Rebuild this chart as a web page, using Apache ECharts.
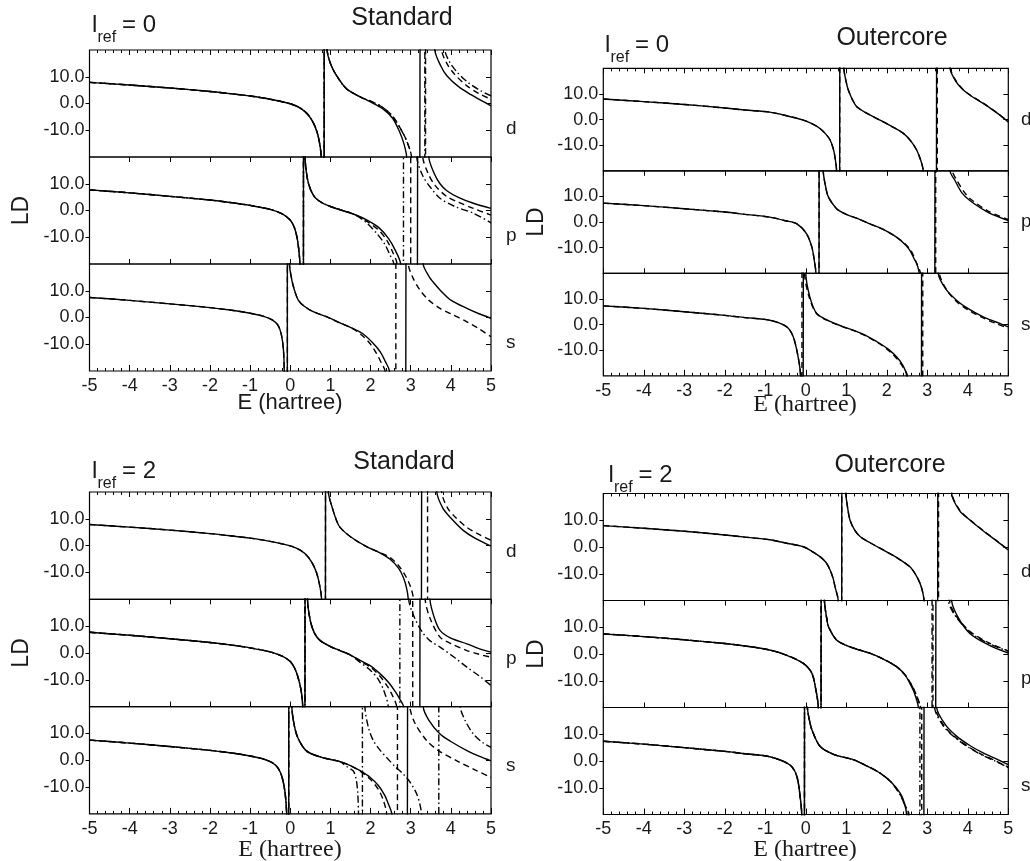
<!DOCTYPE html>
<html>
<head>
<meta charset="utf-8">
<script src="https://cdn.jsdelivr.net/npm/echarts@6/dist/echarts.min.js"></script>
<style>
  html, body { margin: 0; padding: 0; background: #fff; }
  #chart { width: 1030px; height: 861px; }
</style>
</head>
<body>
<div id="chart"></div>
<script>
// ---------- axes and labels ----------
const E_MIN = -5, E_MAX = 5, E_STEP = 1;
const LD_MIN = -20, LD_MAX = 20, LD_STEP = 10;
const LD_TICKS = [-10, 0, 10];
const CHANNELS = ['d', 'p', 's'];
const PANEL_TITLES = ['Standard', 'Outercore', 'Standard', 'Outercore'];
const REF_L = ['0', '0', '2', '2'];
const X_TITLE = 'E (hartree)';
const Y_TITLE = 'LD';

// ---------- logarithmic derivatives, [E, LD]; +-99 marks a pole crossing ----------
// Standard, l_ref = 0
const std0_d_left = [[-5,7.9],[-4,6.9],[-3,5.8],[-2,4.5],[-1.5,3.7],[-1,2.8],[-0.5,1.6],[0,-0.1],[0.25,-1.7],[0.45,-4.3],[0.6,-8],[0.7,-12.5],[0.77,-20],[0.84,-99]];
const std0_d_mid = [[0.85,99],[0.92,20],[1.0,15],[1.15,10.5],[1.4,5.5],[1.7,2.8],[1.85,1.7]];
const std0_d_solid = [[2.0,0.6],[2.3,-1.9],[2.55,-5.5],[2.72,-10.5],[2.83,-15],[2.9,-20],[3.22,-99],[3.24,99],[3.6,20],[3.75,14],[3.9,10.4],[4.2,6.2],[4.5,3.3],[4.75,1.2],[5,-0.9]];
const std0_d_dash = [[2.0,0.9],[2.3,-1.4],[2.55,-4.8],[2.75,-9.5],[2.9,-14],[3.02,-20],[3.36,-99],[3.38,99],[3.77,20],[3.9,15],[4.1,10.8],[4.4,6.6],[4.7,3.7],[5,1.6]];
const std0_d_dot = [[2.0,0.9],[2.3,-1.4],[2.55,-4.8],[2.75,-9.5],[2.9,-14],[3.02,-20],[3.345,-99],[3.36,99],[3.85,20],[3.97,15.5],[4.17,11.5],[4.45,7.6],[4.75,4.7],[5,2.9]];

const std0_p_left = [[-5,7.7],[-4,6.6],[-3,5.3],[-2,3.9],[-1.5,3.0],[-1,1.9],[-0.5,0.4],[-0.2,-1.3],[0,-3.6],[0.1,-6.3],[0.18,-11],[0.24,-20],[0.32,-99]];
const std0_p_mid = [[0.335,99],[0.37,20],[0.42,12.5],[0.5,8],[0.62,4.8],[0.8,2.8],[1.0,1.5],[1.3,0],[1.6,-1.5]];
const std0_p_solid = [[1.9,-3.5],[2.2,-6.3],[2.45,-10.5],[2.62,-15],[2.75,-20],[3.16,-99],[3.18,99],[3.45,20],[3.58,14],[3.73,10],[3.9,7.4],[4.2,4.8],[4.56,2.7],[5,0.8]];
const std0_p_dash = [[1.9,-4],[2.2,-7.3],[2.4,-11],[2.55,-15.5],[2.66,-20],[2.99,-99],[3.01,99],[3.3,20],[3.43,14],[3.6,9.5],[3.9,5.2],[4.2,3.0],[4.56,0.8],[5,-1.7]];
const std0_p_dot = [[1.9,-4.6],[2.15,-8.5],[2.35,-12.5],[2.48,-16.5],[2.58,-20],[2.81,-99],[2.83,99],[3.15,20],[3.3,13],[3.5,8.5],[3.73,4.6],[4.1,1.5],[4.56,-1.0],[5,-4.6]];

const std0_s_left = [[-5,7.5],[-4,6.4],[-3,5.1],[-2,3.7],[-1.5,2.8],[-1,1.6],[-0.7,0.6],[-0.45,-0.9],[-0.3,-3],[-0.22,-6.5],[-0.17,-12],[-0.15,-20],[-0.08,-99]];
const std0_s_mid = [[-0.065,99],[-0.02,20],[0.04,14],[0.1,10.5],[0.2,6.5],[0.35,4.2],[0.57,2.2],[0.9,0.3],[1.24,-2.0],[1.5,-3.7]];
const std0_s_solid = [[1.8,-6],[2.07,-9.7],[2.25,-13],[2.37,-16.5],[2.47,-20],[2.87,-99],[2.89,99],[3.31,20],[3.45,15.5],[3.6,12.5],[3.73,10.3],[4.0,6.5],[4.4,3.4],[4.7,1.4],[5,-0.3]];
const std0_s_dash = [[1.8,-6.8],[2.0,-10],[2.15,-13.5],[2.27,-17],[2.36,-20],[2.62,-99],[2.64,99],[2.94,20],[3.05,15],[3.23,10.3],[3.45,6.5],[3.73,3.4],[4.0,1.4],[4.4,-1.6],[4.7,-4.2],[5,-7.2]];

// Standard, l_ref = 2
const std2_d_left = [[-5,7.9],[-4,6.9],[-3,5.8],[-2,4.5],[-1.5,3.7],[-1,2.8],[-0.5,1.6],[0,-0.1],[0.25,-1.7],[0.45,-4.3],[0.6,-8],[0.7,-12.5],[0.78,-20],[0.87,-99]];
const std2_d_mid = [[0.885,99],[0.95,20],[1.05,14],[1.15,9.5],[1.24,6.8],[1.5,3.3],[1.9,-0.4],[2.2,-2.4]];
const std2_d_solid = [[2.48,-5],[2.7,-8.5],[2.82,-12],[2.9,-16],[2.94,-20],[3.26,-99],[3.28,99],[3.65,20],[3.8,14],[4.0,10.3],[4.3,5.8],[4.6,2.8],[5,-0.2]];
const std2_d_dash = [[2.48,-4.4],[2.7,-7.5],[2.88,-11.5],[3.0,-15.5],[3.07,-20],[3.41,-99],[3.43,99],[3.77,20],[3.92,14],[4.1,10.8],[4.4,6.8],[4.7,4.2],[5,2.0]];

const std2_p_left = [[-5,7.7],[-4,6.6],[-3,5.3],[-2,3.9],[-1.5,3.0],[-1,1.9],[-0.5,0.4],[-0.2,-1.2],[0,-3.2],[0.12,-6],[0.22,-10.5],[0.28,-15],[0.31,-20],[0.36,-99]];
const std2_p_mid = [[0.375,99],[0.43,20],[0.5,12],[0.6,7.5],[0.74,4.7],[1.0,2.4],[1.24,0.9],[1.5,-0.8]];
const std2_p_solid = [[1.74,-2.8],[2.0,-4.8],[2.24,-7.8],[2.45,-11],[2.62,-14.5],[2.74,-17.5],[2.82,-20],[3.22,-99],[3.24,99],[3.48,20],[3.58,13.5],[3.73,8.4],[4.0,5.5],[4.4,3.4],[4.7,1.6],[5,0.3]];
const std2_p_dash = [[1.74,-3.1],[2.0,-5.3],[2.24,-8.8],[2.42,-12.5],[2.55,-16],[2.65,-20],[3.04,-99],[3.06,99],[3.36,20],[3.48,13],[3.73,5.9],[4.0,3.5],[4.4,0.9],[4.7,-0.5],[5,-1.6]];
const std2_p_dot = [[1.74,-3.5],[2.0,-6.5],[2.2,-10],[2.33,-14],[2.44,-20],[2.72,-99],[2.74,99],[2.95,20],[3.1,13],[3.3,7.5],[3.5,4.3],[3.73,2.2],[4.1,-1.8],[4.4,-5.3],[4.7,-8.5],[5,-12.1]];

const std2_s_left = [[-5,7.5],[-4,6.4],[-3,5.1],[-2,3.7],[-1.5,2.8],[-1,1.6],[-0.7,0.6],[-0.45,-0.9],[-0.3,-3],[-0.2,-6.5],[-0.13,-12],[-0.09,-20],[-0.045,-99]];
const std2_s_mid = [[-0.03,99],[0.04,20],[0.1,13],[0.2,8],[0.41,3.4],[0.8,1.0],[1.24,-0.5]];
const std2_s_solid = [[1.5,-2],[1.74,-3.9],[2.0,-6.5],[2.2,-9.5],[2.35,-13],[2.45,-16.5],[2.53,-20],[2.91,-99],[2.93,99],[3.31,20],[3.45,15],[3.73,9.8],[4.0,7],[4.4,3.6],[4.7,1.5],[5,-0.2]];
const std2_s_dash = [[1.5,-2.1],[1.74,-4.1],[2.0,-7.2],[2.2,-11],[2.32,-15],[2.4,-20],[2.66,-99],[2.68,99],[2.98,20],[3.1,14],[3.4,7.3],[3.7,3.5],[4.15,-0.2],[4.6,-3.6],[5,-6.4]];
const std2_s_dot = [[1.4,-2.3],[1.57,-4],[1.64,-7],[1.68,-12],[1.7,-20],[1.79,-99],[1.805,99],[1.86,20],[1.95,12],[2.07,7.3],[2.25,3.5],[2.4,1.0],[2.6,-2.2],[2.82,-5.2],[3.0,-8.5],[3.15,-12.6],[3.23,-16.5],[3.27,-20],[3.69,-99],[3.71,99],[4.23,20],[4.35,15],[4.56,9.8],[4.8,6.5],[5,4.8]];

// Outercore, l_ref = 0
const oc0_d_left = [[-5,8.0],[-4,7.0],[-3,5.9],[-2,4.5],[-1.5,3.7],[-0.89,2.9],[-0.5,1.6],[-0.06,-0.2],[0.15,-1.6],[0.35,-3.5],[0.5,-5.8],[0.6,-8],[0.68,-11.5],[0.72,-14.6],[0.76,-20],[0.83,-99]];
const oc0_d_mid = [[0.845,99],[0.94,20],[1.0,14.5],[1.05,11.5],[1.15,7.8],[1.26,5],[1.5,2.5],[1.83,-0.2],[2.1,-2.5],[2.41,-5.4],[2.6,-8.5],[2.74,-12],[2.84,-16],[2.9,-20]];
const oc0_d_solid = [[3.22,-99],[3.235,99],[3.56,20],[3.7,15],[3.89,11.5],[4.1,9.0],[4.38,6.3],[4.7,2.8],[5,-0.9]];
const oc0_d_dash = [[3.24,-99],[3.255,99],[3.57,20],[3.71,15.1],[3.89,11.6],[4.1,9.1],[4.38,6.4],[4.7,2.9],[5,-0.8]];

const oc0_p_left = [[-5,7.4],[-4,6.4],[-3,5.2],[-2,3.9],[-1.5,3.0],[-0.89,1.9],[-0.5,0.5],[-0.22,-0.7],[0.02,-4.6],[0.15,-9.8],[0.21,-15],[0.25,-20],[0.32,-99]];
const oc0_p_mid = [[0.335,99],[0.43,20],[0.5,13],[0.56,9.7],[0.76,5.2],[1.0,3],[1.3,1.2],[1.58,-0.7],[1.9,-2.8],[2.24,-5.9]];
const oc0_p_solid = [[2.45,-8.8],[2.57,-11.1],[2.68,-14.5],[2.74,-16.3],[2.8,-20],[3.18,-99],[3.195,99],[3.56,20],[3.68,16.3],[3.85,11.5],[4.05,8.4],[4.5,3.8],[5,0.6]];
const oc0_p_dash = [[2.45,-8.5],[2.6,-11.2],[2.72,-15.5],[2.83,-20],[3.2,-99],[3.215,99],[3.62,20],[3.74,16],[3.9,12],[4.05,9.2],[4.5,4.3],[5,1.0]];

const oc0_s_left = [[-5,7.3],[-4,6.3],[-3,5.0],[-2,3.6],[-1.5,2.7],[-0.89,1.7],[-0.47,-0.9],[-0.31,-4.8],[-0.19,-12.6],[-0.13,-20]];
const oc0_s_solid = [[-0.07,-99],[-0.055,99],[0.0,20],[0.1,10.8],[0.27,4.3],[0.6,1.2],[0.9,-0.7],[1.17,-2.2],[1.5,-4.4],[1.83,-7.4],[2.05,-9.8],[2.24,-12.6],[2.4,-16],[2.49,-20],[2.85,-99],[2.865,99],[3.27,20],[3.45,14],[3.72,9.5],[4.0,6.3],[4.38,3],[4.7,1.0],[5,-0.9]];
const oc0_s_dash = [[-0.1,-99],[-0.085,99],[-0.03,20],[0.08,10.8],[0.27,4.2],[0.6,1.1],[0.9,-0.8],[1.17,-2.3],[1.5,-4.6],[1.83,-7.6],[2.05,-10.2],[2.24,-13.2],[2.4,-16.6],[2.51,-20],[2.88,-99],[2.895,99],[3.3,20],[3.48,13.5],[3.72,9.0],[4.0,5.8],[4.38,2.6],[4.7,0.4],[5,-1.4]];

// Outercore, l_ref = 2
const oc2_d_left = [[-5,8.0],[-4,7.0],[-3,5.9],[-2,4.5],[-1.5,3.7],[-0.89,2.7],[-0.5,1.5],[-0.06,0.1],[0.15,-1.6],[0.35,-3.6],[0.5,-5.8],[0.6,-8.6],[0.68,-12],[0.72,-14.8],[0.8,-20],[0.88,-99]];
const oc2_d_mid = [[0.895,99],[0.99,20],[1.04,14],[1.09,10.1],[1.2,6.5],[1.34,3.9],[1.6,1.5],[1.91,-1.1],[2.25,-4],[2.57,-7.4],[2.72,-10.5],[2.82,-13.6],[2.88,-16.5],[2.92,-20]];
const oc2_d_solid = [[3.25,-99],[3.265,99],[3.6,20],[3.8,13.5],[4.05,10.1],[4.4,5.8],[4.7,2.4],[5,-1.1]];
const oc2_d_dash = [[3.27,-99],[3.285,99],[3.61,20],[3.81,13.6],[4.05,10.2],[4.4,5.9],[4.7,2.5],[5,-1.0]];

const oc2_p_left = [[-5,7.5],[-4,6.5],[-3,5.3],[-2,3.9],[-1.5,3.0],[-0.89,1.5],[-0.5,-0.3],[-0.06,-3.5],[0.15,-7.2],[0.25,-13.5],[0.31,-20],[0.37,-99]];
const oc2_p_mid = [[0.385,99],[0.46,20],[0.52,13],[0.56,10.2],[0.76,5.2],[1.0,3.2],[1.3,1.6],[1.58,0.3],[1.9,-1.8],[2.24,-4.7],[2.45,-7.8]];
const oc2_p_solid = [[2.57,-11],[2.68,-14.5],[2.78,-20],[3.2,-99],[3.22,99],[3.6,20],[3.75,14],[4.05,7.7],[4.5,3.5],[5,0.3]];
const oc2_p_dash = [[2.6,-11.2],[2.72,-15],[2.82,-20],[3.13,-99],[3.15,99],[3.55,20],[3.7,14.5],[4.05,8.5],[4.5,4.3],[5,1.2]];
const oc2_p_dot = [[2.6,-11.3],[2.73,-15.5],[2.83,-20],[3.11,-99],[3.125,99],[3.52,20],[3.68,14.5],[4.05,8.2],[4.5,4.0],[5,1.0]];

const oc2_s_left = [[-5,7.4],[-4,6.3],[-3,5.0],[-2,3.6],[-1.5,2.7],[-0.89,1.6],[-0.39,-1.5],[-0.22,-5.8],[-0.13,-14.6],[-0.1,-20],[-0.04,-99]];
const oc2_s_mid = [[-0.025,99],[0.04,20],[0.1,14.5],[0.15,11.7],[0.35,5.5],[0.7,2.4],[1.17,0.5],[1.5,-1.8],[1.83,-4.5],[2.1,-7.8]];
const oc2_s_solid = [[2.33,-12],[2.43,-15.5],[2.49,-20],[2.91,-99],[2.925,99],[3.23,20],[3.45,13.5],[3.73,9.2],[4.05,5.8],[4.38,3],[4.7,0.8],[5,-1.4]];
const oc2_s_dash = [[2.33,-12.5],[2.45,-16.5],[2.53,-20],[2.855,-99],[2.87,99],[3.2,20],[3.42,13],[3.73,8.4],[4.05,5],[4.38,2.2],[4.7,0],[5,-2.3]];
const oc2_s_dot = [[2.33,-12.7],[2.46,-17],[2.55,-20],[2.81,-99],[2.825,99],[3.18,20],[3.4,13],[3.73,8.2],[4.05,4.8],[4.38,2.0],[4.7,-0.2],[5,-2.5]];

// Curves per panel and channel, drawn back to front: dot-dash, dashed, solid
const panelCurves = [
  { // Standard, l_ref = 0
    d: { dot: [...std0_d_left, ...std0_d_mid, ...std0_d_dot], dash: [...std0_d_left, ...std0_d_mid, ...std0_d_dash], solid: [...std0_d_left, ...std0_d_mid, ...std0_d_solid] },
    p: { dot: [...std0_p_left, ...std0_p_mid, ...std0_p_dot], dash: [...std0_p_left, ...std0_p_mid, ...std0_p_dash], solid: [...std0_p_left, ...std0_p_mid, ...std0_p_solid] },
    s: { dash: [...std0_s_left, ...std0_s_mid, ...std0_s_dash], solid: [...std0_s_left, ...std0_s_mid, ...std0_s_solid] }
  },
  { // Outercore, l_ref = 0
    d: { dash: [...oc0_d_left, ...oc0_d_mid, ...oc0_d_dash], solid: [...oc0_d_left, ...oc0_d_mid, ...oc0_d_solid] },
    p: { dash: [...oc0_p_left, ...oc0_p_mid, ...oc0_p_dash], solid: [...oc0_p_left, ...oc0_p_mid, ...oc0_p_solid] },
    s: { dash: [...oc0_s_left, ...oc0_s_dash], solid: [...oc0_s_left, ...oc0_s_solid] }
  },
  { // Standard, l_ref = 2
    d: { dash: [...std2_d_left, ...std2_d_mid, ...std2_d_dash], solid: [...std2_d_left, ...std2_d_mid, ...std2_d_solid] },
    p: { dot: [...std2_p_left, ...std2_p_mid, ...std2_p_dot], dash: [...std2_p_left, ...std2_p_mid, ...std2_p_dash], solid: [...std2_p_left, ...std2_p_mid, ...std2_p_solid] },
    s: { dot: [...std2_s_left, ...std2_s_mid, ...std2_s_dot], dash: [...std2_s_left, ...std2_s_mid, ...std2_s_dash], solid: [...std2_s_left, ...std2_s_mid, ...std2_s_solid] }
  },
  { // Outercore, l_ref = 2
    d: { dash: [...oc2_d_left, ...oc2_d_mid, ...oc2_d_dash], solid: [...oc2_d_left, ...oc2_d_mid, ...oc2_d_solid] },
    p: { dot: [...oc2_p_left, ...oc2_p_mid, ...oc2_p_dot], dash: [...oc2_p_left, ...oc2_p_mid, ...oc2_p_dash], solid: [...oc2_p_left, ...oc2_p_mid, ...oc2_p_solid] },
    s: { dot: [...oc2_s_left, ...oc2_s_mid, ...oc2_s_dot], dash: [...oc2_s_left, ...oc2_s_mid, ...oc2_s_dash], solid: [...oc2_s_left, ...oc2_s_mid, ...oc2_s_solid] }
  }
];

// ---------- layout ----------
const SANS = '"Liberation Sans", Arial, Helvetica, sans-serif';
const SERIF = '"Liberation Serif", "Times New Roman", Times, serif';
const INK = '#1a1a1a';
const LINE_TYPES = { solid: 'solid', dash: [6, 4], dot: [7, 3, 1.5, 3] };

const panels = [
  { left: 89.5, width: 401.5, top: 50, h: 107, title: [402, 18], lref: [92, 25], ldX: 21.5, chanX: 506, chanDy: 25, xt: [290, 403, SANS, 22] },
  { left: 603.3, width: 405, top: 68.3, h: 102.5, title: [892, 38], lref: [605, 45.5], ldX: 537, chanX: 1021, chanDy: 0, xt: [805, 405, SERIF, 24] },
  { left: 89.5, width: 401.5, top: 492, h: 107.3, title: [404, 462], lref: [92, 471], ldX: 21.5, chanX: 506, chanDy: 6, xt: [290, 850, SERIF, 24] },
  { left: 603.3, width: 405, top: 493.5, h: 107, title: [890, 465], lref: [608.5, 475], ldX: 537, chanX: 1021, chanDy: 25, xt: [805, 850, SERIF, 24] }
];

const grids = [], xAxes = [], yAxes = [], series = [], graphics = [];

function txt(x, y, text, size, font, align, extra) {
  graphics.push(Object.assign({
    type: 'text', x: x, y: y, silent: true,
    style: { text: text, fill: INK, font: size + 'px ' + font, textAlign: align || 'left', textVerticalAlign: 'middle' }
  }, extra || {}));
}

const hiddenLine = { show: false, onZero: false };

panels.forEach((P, pi) => {
  CHANNELS.forEach((ch, ri) => {
    const gi = grids.length;
    const top = P.top + ri * P.h;
    grids.push({ left: P.left, top: top, width: P.width, height: P.h, show: true,
                 borderColor: '#000', borderWidth: 1.2, backgroundColor: 'transparent',
                 outerBoundsMode: 'none' });

    const baseX = { gridIndex: gi, type: 'value', min: E_MIN, max: E_MAX, interval: E_STEP,
                    axisLine: hiddenLine, splitLine: { show: false }, minorSplitLine: { show: false },
                    axisLabel: { show: false } };
    const tick = (len) => ({ show: true, inside: true, length: len, lineStyle: { color: '#000', width: 1 } });
    const minor = { show: true, splitNumber: 5, length: 3, lineStyle: { color: '#000', width: 1 } };

    let xi;
    if (ch === 'd') {
      xi = xAxes.length;
      xAxes.push(Object.assign({}, baseX, { position: 'top', axisTick: tick(5), minorTick: minor }));
    } else if (ch === 'p') {
      xi = xAxes.length;
      xAxes.push(Object.assign({}, baseX, { position: 'bottom', axisTick: tick(5) }));
      xAxes.push(Object.assign({}, baseX, { position: 'top', axisTick: tick(5) }));
    } else {
      xi = xAxes.length;
      xAxes.push(Object.assign({}, baseX, { position: 'bottom', axisTick: tick(6), minorTick: minor,
        axisLabel: { show: true, color: INK, fontFamily: SANS, fontSize: 18, margin: 6 } }));
    }

    const yi = yAxes.length;
    yAxes.push({ gridIndex: gi, type: 'value', min: LD_MIN, max: LD_MAX, interval: LD_STEP, position: 'left',
      axisLine: hiddenLine, splitLine: { show: false },
      axisTick: { show: true, inside: false, length: 4, customValues: LD_TICKS, lineStyle: { color: '#000', width: 1 } },
      axisLabel: { show: true, customValues: LD_TICKS, formatter: v => Number(v).toFixed(1),
                   color: INK, fontFamily: SANS, fontSize: 18, margin: 5 } });
    yAxes.push({ gridIndex: gi, type: 'value', min: LD_MIN, max: LD_MAX, interval: LD_STEP, position: 'right',
      axisLine: hiddenLine, splitLine: { show: false }, axisLabel: { show: false },
      axisTick: { show: true, inside: true, length: 5, customValues: LD_TICKS, lineStyle: { color: '#000', width: 1 } } });

    const curves = panelCurves[pi][ch];
    ['dot', 'dash', 'solid'].forEach((kind, k) => {
      if (!curves[kind]) return;
      series.push({ type: 'line', xAxisIndex: xi, yAxisIndex: yi, data: curves[kind],
        symbol: 'none', showSymbol: false, silent: true, clip: true, z: 2 + k, smooth: 0.3,
        lineStyle: { color: '#000', width: 1.4, type: LINE_TYPES[kind] } });
    });

    // channel name at the right of each strip
    txt(P.chanX, top + P.h / 2 + P.chanDy, ch, 19, SANS);
  });

  // panel title, l_ref label, axis titles
  txt(P.title[0], P.title[1], PANEL_TITLES[pi], 25, SANS, 'center');
  txt(P.lref[0], P.lref[1], 'l', 24, SANS);
  txt(P.lref[0] + 5.5, P.lref[1] + 12.5, 'ref', 16, SANS);
  txt(P.lref[0] + 30, P.lref[1], '= ' + REF_L[pi], 24, SANS);
  txt(P.ldX, P.top + 1.5 * P.h, Y_TITLE, 23, SANS, 'center', { rotation: Math.PI / 2 });
  txt(P.xt[0], P.xt[1], X_TITLE, P.xt[3], P.xt[2], 'center');
});

const chart = echarts.init(document.getElementById('chart'), null, { renderer: 'canvas' });
chart.setOption({
  animation: false,
  backgroundColor: '#fff',
  grid: grids,
  xAxis: xAxes,
  yAxis: yAxes,
  series: series,
  graphic: graphics
});
</script>
</body>
</html>
